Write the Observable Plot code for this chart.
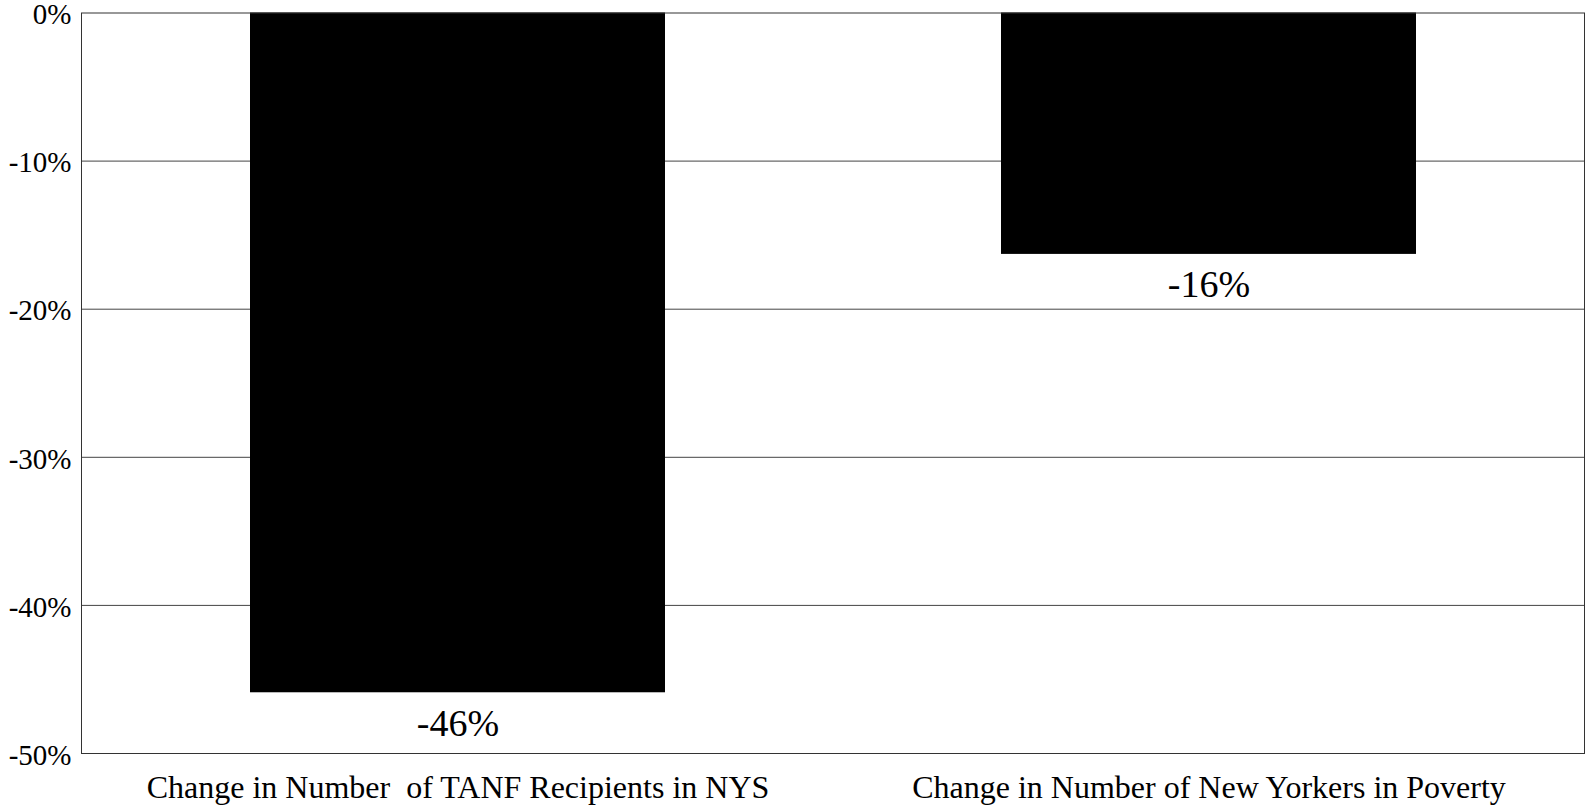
<!DOCTYPE html>
<html><head><meta charset="utf-8">
<script src="https://cdn.jsdelivr.net/npm/d3@7"></script>
<script src="https://cdn.jsdelivr.net/npm/@observablehq/plot@0.6"></script>
<style>
html,body{margin:0;padding:0;background:#fff;}
svg text{white-space:pre;font-family:"Liberation Serif","Times New Roman",serif !important;}
</style></head><body><div id="chart"></div>
<script>
const categories = ["Change in Number  of TANF Recipients in NYS", "Change in Number of New Yorkers in Poverty"];
const values = [-45.9, -16.3];
const valueLabels = ["-46%", "-16%"];
const yTicks = [0, -10, -20, -30, -40, -50];
const gridTicks = [-10, -20, -30, -40];
const data = categories.map((c, i) => ({category: c, value: values[i], label: valueLabels[i]}));
const serif = '"Liberation Serif", "Times New Roman", serif';

const chart = Plot.plot({
  width: 1585, height: 806,
  marginLeft: 81, marginRight: 1, marginTop: 12.5, marginBottom: 53,
  style: {fontFamily: serif, background: "#fff", color: "#000", overflow: "visible"},
  x: {domain: categories, paddingInner: 0.448, paddingOuter: 0.224, label: null},
  y: {domain: [-50, 0], label: null},
  marks: [
    Plot.ruleY(gridTicks, {stroke: "#444", strokeWidth: 1}),
    Plot.barY(data, {x: "category", y: "value", fill: "#000"}),
    Plot.text(data, {x: "category", y: "value", text: "label", lineAnchor: "bottom", dy: 43, fontSize: 38, fontFamily: serif, fill: "#000"}),
    Plot.axisY({ticks: yTicks, tickSize: 0, tickPadding: 10, dy: 2, tickFormat: d => `${d}%`, fontSize: 29, fontFamily: serif, label: null}),
    Plot.axisX({tickSize: 0, tickPadding: 22, fontSize: 32, fontFamily: serif, label: null}),
    Plot.frame({stroke: "#333", strokeWidth: 1})
  ]
});
document.getElementById("chart").appendChild(chart);
</script></body></html>
